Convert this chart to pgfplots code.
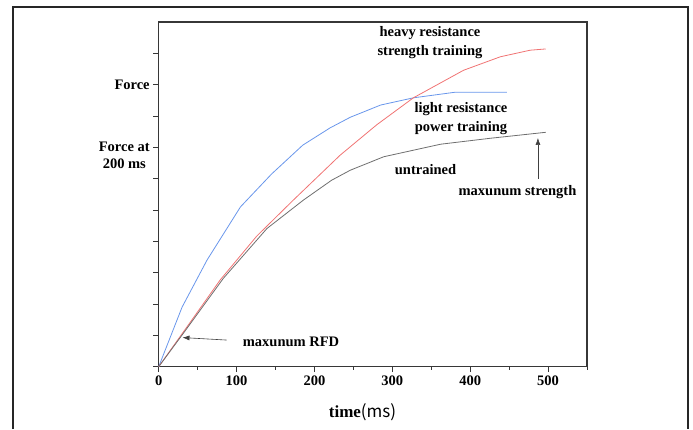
\documentclass[border=0pt]{standalone}
\usepackage{pgfplots}
\pgfplotsset{compat=1.18}
\usetikzlibrary{arrows.meta}
\usepackage{fontspec}
\setmainfont{Liberation Serif}
\newfontfamily\cjk{Noto Sans CJK SC}
\definecolor{cblue}{RGB}{105,150,235}
\definecolor{cred}{RGB}{240,115,115}
\definecolor{cgray}{RGB}{110,110,110}
\definecolor{caxis}{RGB}{55,55,55}
\newcommand{\lbl}{\fontsize{14.5}{19}\selectfont\bfseries}

\begin{document}
\begin{tikzpicture}[x=1pt,y=1pt]
\path[use as bounding box] (0,0) rectangle (693,429);
\draw[line width=1.4pt, black!85] (13,0) -- (13,422) -- (688,422) -- (688,0);
\begin{axis}[
  at={(158.7pt,62.3pt)}, anchor=south west,
  width=428.3pt, height=344.7pt, scale only axis,
  xmin=0, xmax=550, ymin=0, ymax=11,
  axis line style={caxis, line width=1.1pt},
  tick style={caxis, line width=1pt},
  tick align=outside, xtick pos=left, ytick pos=left,
  major tick length=5.5pt, minor tick length=3pt,
  xtick={0,100,...,500}, minor xtick={50,150,...,550},
  ytick={0,1,...,10}, yticklabels={,,,,,,,,,Force,},
  tick label style={font=\lbl},
  /pgf/number format/assume math mode=true,
  clip=false,
]
\addplot[cblue, line width=0.8pt] coordinates {
(0,0) (30,1.9) (62,3.4) (105,5.1) (145,6.15) (185,7.07) (220,7.62) (246,7.96)
(285,8.35) (327,8.58) (381,8.76) (447,8.76)
};
\addplot[cred, line width=0.8pt] coordinates {
(0,0) (40,1.4) (79,2.77) (126,4.17) (173,5.32) (233,6.75) (280,7.72) (327,8.58)
(391.5,9.46) (438.7,9.89) (477,10.1) (497,10.14)
};
\addplot[cgray, line width=0.8pt] coordinates {
(0,0) (30,1.01) (83,2.82) (139,4.41) (186,5.32) (222,5.95) (246,6.27)
(289,6.70) (362,7.10) (426,7.29) (497,7.48)
};
\draw[-{Latex[length=7pt,width=5pt]}, black!75, line width=0.6pt] (axis cs:87.3,0.85) -- (axis cs:30.5,0.93);
\draw[-{Latex[length=7pt,width=5pt]}, black!75, line width=0.6pt] (axis cs:487,6.0) -- (axis cs:487,7.3);
\end{axis}
\node[font=\lbl] at (291,87) {maxunum RFD};
\node[font=\lbl, align=center] at (430,386.5) {heavy resistance\\strength training};
\node[font=\lbl, align=center] at (461,310.5) {light resistance\\power training};
\node[font=\lbl] at (425.5,259) {untrained};
\node[font=\lbl] at (517.5,237) {maxunum strength};
\node[font=\fontsize{14.5}{17.3}\selectfont\bfseries, align=center] at (124.3,273.7) {Force at\\200 ms};
\node at (362.5,16.3) {\fontsize{17}{20}\selectfont\bfseries time\mdseries\cjk{(ms)}};
\end{tikzpicture}
\end{document}
